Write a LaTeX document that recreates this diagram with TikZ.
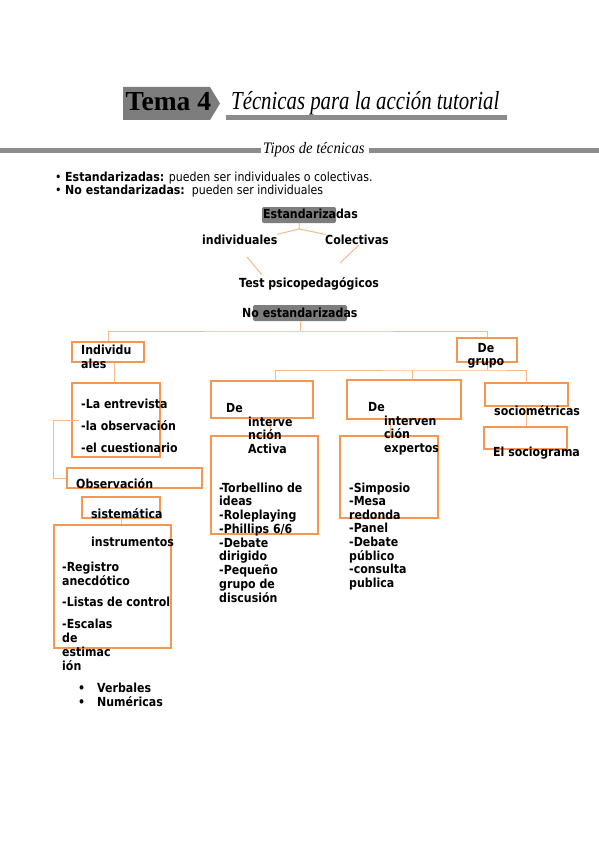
\documentclass[tikz,border=0pt]{standalone}
\usepackage{fontspec}
\usetikzlibrary{fit,calc}
\newfontfamily\dv{DejaVu Sans}[FakeStretch=0.88]
\newfontfamily\tms{Liberation Serif}
\definecolor{gbar}{RGB}{140,140,140}
\definecolor{gbox}{RGB}{125,125,125}
\definecolor{obox}{RGB}{247,150,80}
\definecolor{oline}{RGB}{247,184,140}
\tikzset{
  obx/.style={draw=obox, line width=1.5pt, inner sep=0pt, rectangle},
  gbx/.style={fill=gbox, inner sep=0pt, rounded corners=2pt, rectangle},
  con/.style={draw=oline, line width=1pt},
  txt/.style={anchor=base west, inner sep=0pt, align=left, font=\dv\bfseries\fontsize{12.5}{13.7}\selectfont},
  lsk/.style={font=\dv\bfseries\fontsize{12.5}{#1}\selectfont},
  reg/.style={anchor=base west, inner sep=0pt, font=\dv\fontsize{12.5}{13}\selectfont},
}
\begin{document}
\begin{tikzpicture}[x=1pt,y=-1pt]
\useasboundingbox (0,0) rectangle (599,848);
\fill[white] (0,0) rectangle (599,848);
% title
\fill[gbox] (123,87) -- (210,87) -- (220,103.5) -- (210,120) -- (123,120) -- cycle;
\node[anchor=base west, inner sep=0pt, font=\tms\bfseries\fontsize{27.5}{30}\selectfont] (tema) at (125.5,110.5) {Tema 4};
\node[anchor=base west, inner sep=0pt, font=\tms\itshape\fontsize{26}{30}\selectfont] (titulo) at (231,110) {\scalebox{0.8}[1]{Técnicas para la acción tutorial}};
\fill[gbar] (226,115.5) rectangle (507,120);
% tipos
\fill[gbar] (0,147.5) rectangle (261,152.5);
\fill[gbar] (369,147.5) rectangle (599,152.5);
\node[anchor=base west, inner sep=0pt, font=\tms\itshape\fontsize{16}{18}\selectfont] (tipos) at (263,153.5) {\scalebox{0.92}[1]{Tipos de técnicas}};
% bullets
\node[reg] (b1) at (55,181) {\makebox[10pt][l]{•}\textbf{Estandarizadas:} pueden ser individuales o colectivas.};
\node[reg] (b2) at (55,194) {\makebox[10pt][l]{•}\textbf{No estandarizadas:}\ \ pueden ser individuales};
% Estandarizadas
\node[gbx, fit={(262,207) (336,223)}] (est) {};
\node[txt] (estt) at (263,218) {Estandarizadas};
\node[txt] (indv) at (202,244) {individuales};
\node[txt] (col) at (325,244) {Colectivas};
\node[txt] (test) at (239,287) {Test psicopedagógicos};
\coordinate (jE) at (299,229);
\draw[con] (est.south) -- (jE) -- (indv.north east);
\draw[con] (jE) -- (col.north west);
\coordinate (a1) at (247,257); \coordinate (a2) at (262,275);
\coordinate (c1) at (359,245); \coordinate (c2) at (340,263);
\draw[con] (a1) -- (a2);
\draw[con] (c1) -- (c2);
% No estandarizadas
\node[gbx, fit={(253,305) (347,321)}] (noest) {};
\node[txt] (noestt) at (242,317) {No estandarizadas};
\coordinate (jN) at (300,331);
% boxes
\node[obx, fit={(72,342) (144,362)}] (ind) {};
\node[obx, fit={(72,383) (160,457)}] (ent) {};
\node[obx, fit={(67,468) (202,488)}] (obs) {};
\node[obx, fit={(82,497) (160,518)}] (sis) {};
\node[obx, fit={(54,525) (171,648)}] (ins) {};
\node[obx, fit={(457,338) (517,362)}] (grp) {};
\node[obx, fit={(211,381) (313,418)}] (act1) {};
\node[obx, fit={(211,436) (318,534)}] (act2) {};
\node[obx, fit={(347,380) (461,419)}] (exp1) {};
\node[obx, fit={(340,436) (438,518)}] (exp2) {};
\node[obx, fit={(485,383) (568,406)}] (soc) {};
\node[obx, fit={(484,427) (567,449)}] (sgm) {};
% connectors
\draw[con] (noest.south) -- (jN);
\draw[con] (ind.north) |- (jN) -| (grp.north);
\draw[con] ([xshift=6pt]ind.south) -- ([xshift=6pt]ind.south |- ent.north);
\coordinate (bk) at (53,420);
\draw[con] ([xshift=8pt]ent.west) -- (bk) |- (obs.west);
\draw[con] (sis.south) -- (sis.south |- ins.north);
\coordinate (jG) at (487,370);
\coordinate (dA) at (275,370);
\coordinate (dX) at (412,370);
\draw[con] (grp.south) -- (jG);
\draw[con] (act1.north -| dA) |- (jG) -| (soc.north);
\draw[con] (exp1.north -| dX) -- (dX);
\draw[con] ([xshift=8pt]act1.south) -- ([xshift=8pt]act1.south |- act2.north);
\draw[con] ([xshift=-14pt]exp1.south) -- ([xshift=-14pt]exp1.south |- exp2.north);
\draw[con] (soc.south) -- (soc.south |- sgm.north);
% texts (base anchor of a multi-line node = last line baseline)
\node[txt, lsk=14] (indt) at (81,368) {Individu\\ales};
\node[txt] (e1) at (81,408) {-La entrevista};
\node[txt] (e2) at (81,430) {-la observación};
\node[txt] (e3) at (81,452) {-el cuestionario};
\node[txt] (obst) at (76,488.5) {Observación};
\node[txt] (sist) at (91,518) {sistemática};
\node[txt] (inst) at (91,546) {instrumentos};
\node[txt, lsk=11] (i1) at (62,585) {-Registro\\anecdótico};
\node[txt] (i2) at (62,606) {-Listas de control};
\node[txt, lsk=14] (i3) at (62,670) {-Escalas\\de\\estimac\\ión};
\node[txt] (bv) at (78,692) {•};
\node[txt] (vt) at (97,692) {Verbales};
\node[txt] (bn) at (78,706) {•};
\node[txt] (nt) at (97,706) {Numéricas};
\node[txt, anchor=base, align=center, lsk=13] (grpt) at (486,365) {De\\grupo};
\node[txt] (a1t) at (226,412) {De};
\node[txt, lsk=13.5] (a2t) at (248,453) {interve\\nción\\Activa};
\node[txt, lsk=13.75] (a3t) at (219,602) {-Torbellino de\\ideas\\-Roleplaying\\-Phillips 6/6\\-Debate\\dirigido\\-Pequeño\\grupo de\\discusión};
\node[txt] (x1t) at (368,411) {De};
\node[txt, lsk=13.5] (x2t) at (384,452) {interven\\ción\\expertos};
\node[txt, lsk=13.6] (x3t) at (349,587.2) {-Simposio\\-Mesa\\redonda\\-Panel\\-Debate\\público\\-consulta\\publica};
\node[txt] (soct) at (494,415) {sociométricas};
\node[txt] (sgmt) at (493,456) {El sociograma};
\end{tikzpicture}
\end{document}
